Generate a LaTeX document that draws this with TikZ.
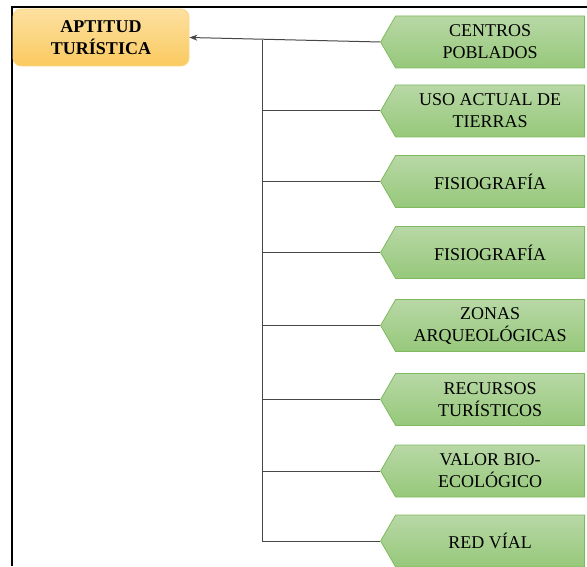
\documentclass[tikz,border=0pt]{standalone}
\usepackage{fontspec}
\setmainfont{Liberation Serif}
\usepackage{tikz}
\usetikzlibrary{
  positioning,
  arrows.meta,
  shapes.symbols
}
\definecolor{GoldTop}{RGB}{253,224,160}
\definecolor{GoldBot}{RGB}{250,202,96}
\definecolor{GoldLine}{RGB}{252,214,130}
\definecolor{GreenTop}{RGB}{184,216,166}
\definecolor{GreenBot}{RGB}{150,200,122}
\definecolor{GreenLine}{RGB}{128,186,96}
\definecolor{Gray}{RGB}{70,70,70}

\begin{document}
\begin{tikzpicture}[x=0.5pt,y=-0.5pt,
  goal/.style={draw=GoldLine,top color=GoldTop,bottom color=GoldBot,rounded corners=4pt,
    minimum width=88pt,minimum height=28.5pt,inner sep=0pt,
    align=center,font=\fontsize{9}{11}\selectfont\bfseries},
  factor/.style={signal,signal to=west,signal pointer angle=120,
    draw=GreenLine,top color=GreenTop,bottom color=GreenBot,
    minimum width=102pt,minimum height=26pt,inner sep=0pt,
    align=center,font=\fontsize{9}{11}\selectfont},
  link/.style={draw=Gray,line width=0.5pt},
  arr/.style={-{Stealth[length=4pt,width=3pt]},link},
]
\useasboundingbox (0,0) rectangle (587,566);
% —— marco ——
\draw[line width=1pt] (12,566)--(12,7)--(587,7);

% —— objetivo ——
\node[goal] (A) at (101,37.5) {APTITUD\\TURÍSTICA};

% —— factores ——
\node[factor,anchor=east] (F1) at (585,42)    {CENTROS\\POBLADOS};
\node[factor,anchor=east] (F2) at (585,111)   {USO ACTUAL DE\\TIERRAS};
\node[factor,anchor=east] (F3) at (585,181.5) {FISIOGRAFÍA};
\node[factor,anchor=east] (F4) at (585,252.5) {FISIOGRAFÍA};
\node[factor,anchor=east] (F5) at (585,325.5) {ZONAS\\ARQUEOLÓGICAS};
\node[factor,anchor=east] (F6) at (585,399.5) {RECURSOS\\TURÍSTICOS};
\node[factor,anchor=east] (F7) at (585,471)   {VALOR BIO-\\ECOLÓGICO};
\node[factor,anchor=east] (F8) at (585,541)   {RED VÍAL};

\draw[arr] (F1.west)--(A.east);
\coordinate (T) at (262,40);
\draw[link] (T)--(T |- F8.west);
\foreach \f in {F2,F3,F4,F5,F6,F7,F8}
  \draw[link] (\f.west)--(\f.west -| T);
\end{tikzpicture}
\end{document}
